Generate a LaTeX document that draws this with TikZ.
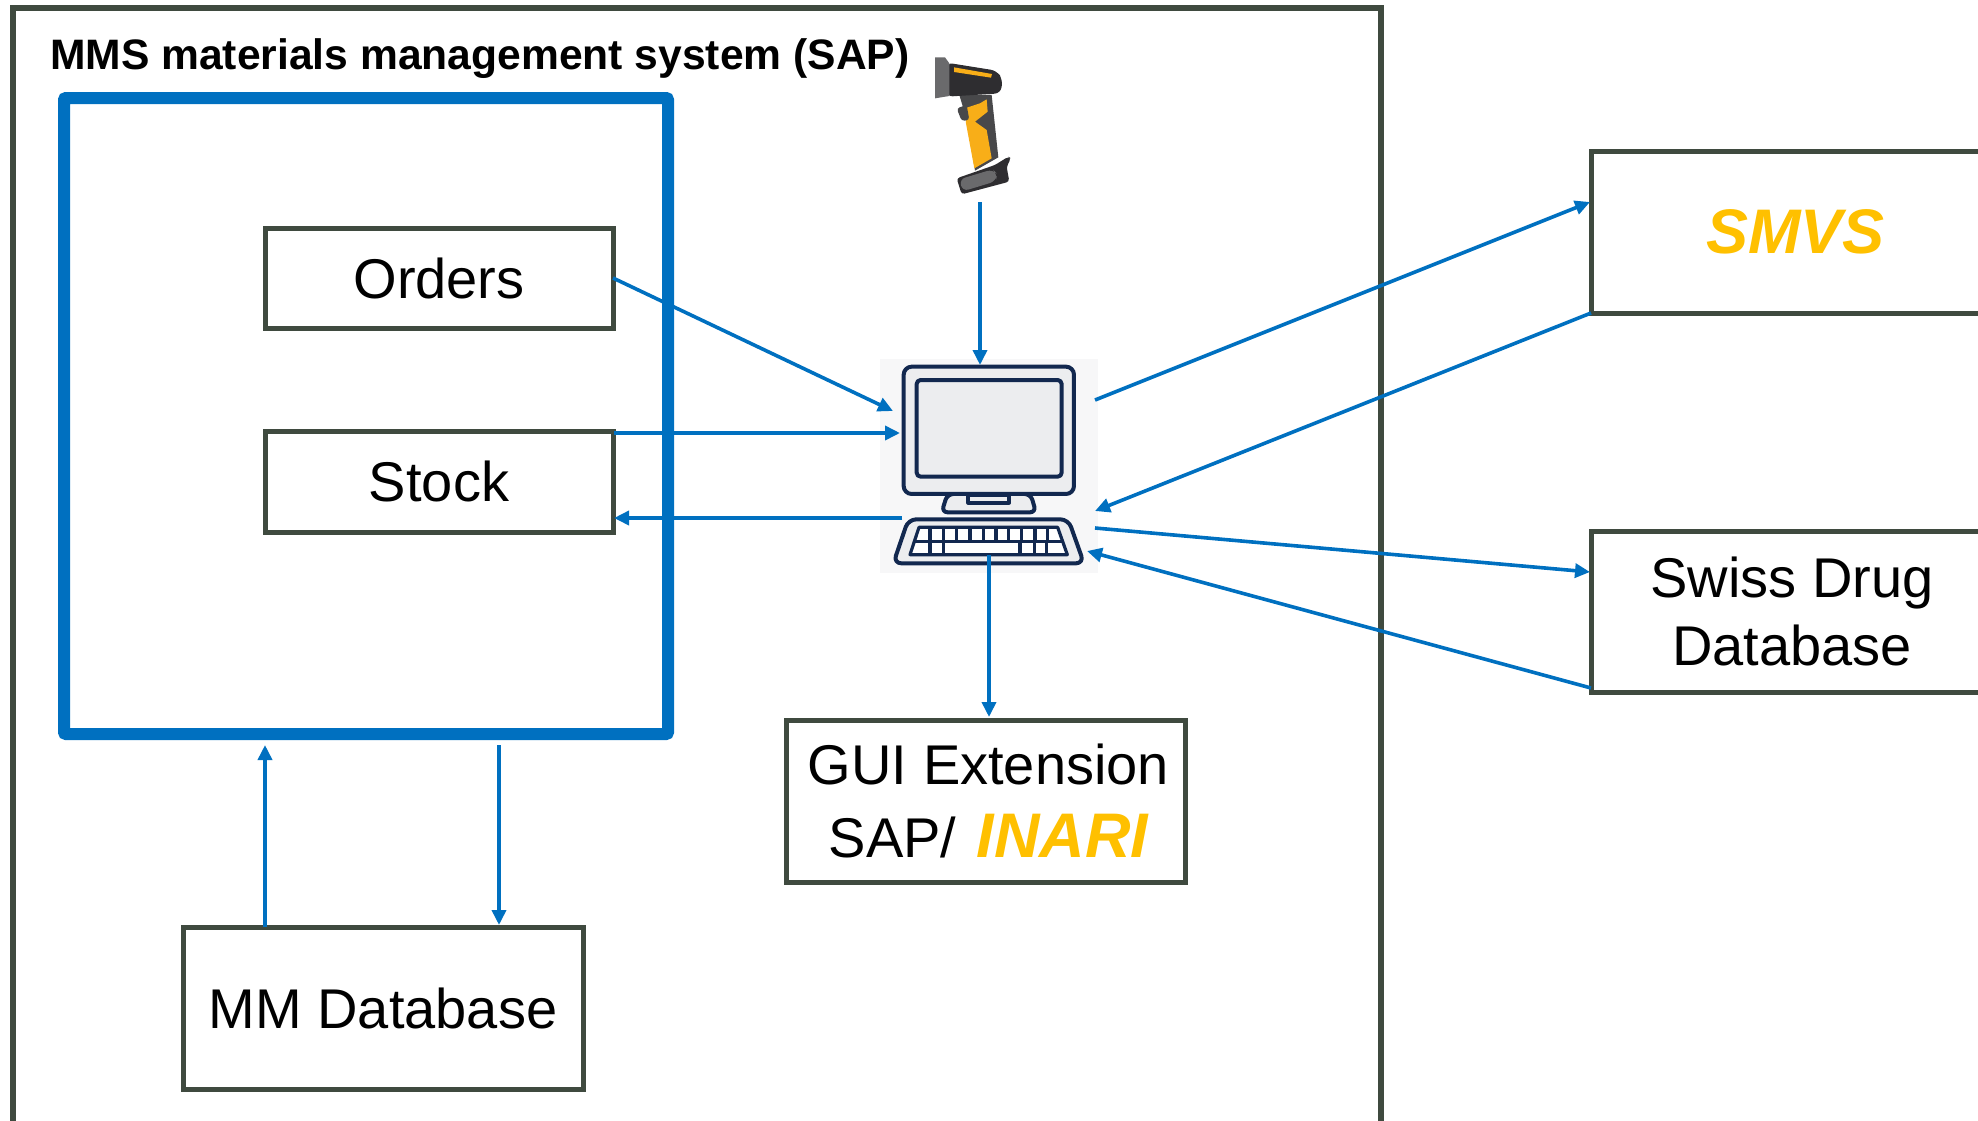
\documentclass[tikz,border=0pt]{standalone}
\usepackage{fontspec}
\setmainfont{Liberation Sans}
\usetikzlibrary{arrows.meta}
\definecolor{frame}{HTML}{3F4A3F}
\definecolor{flow}{HTML}{0070C0}
\definecolor{gold}{HTML}{FFC000}
\definecolor{navy}{HTML}{12284F}
\definecolor{screen}{HTML}{ECEDEF}
\definecolor{pale}{HTML}{F7F7F8}
\definecolor{sgray}{HTML}{6A6A6C}
\definecolor{sdark}{HTML}{2E2D30}
\definecolor{smid}{HTML}{48484A}
\definecolor{syellow}{HTML}{F8AE18}
\tikzset{
  box/.style={draw=frame,line width=5pt,rectangle,outer sep=0pt,inner sep=0pt,anchor=north west,align=center,
    font=\fontsize{56}{71}\selectfont},
  conn/.style={draw=flow,line width=3.6pt,-{Triangle[length=15pt,width=14pt]}},
  mon/.style={draw=navy,line width=4pt,line join=round,fill=screen},
}
\newcommand{\hl}[1]{{\fontsize{63}{71}\selectfont\color{gold}\bfseries\itshape #1}}
\begin{document}
\begin{tikzpicture}[x=1pt,y=-1pt]
\useasboundingbox (0,0) rectangle (1978,1120);
\clip (0,0) rectangle (1978,1120);
% frames
\node[box,line width=6pt,minimum width=1368pt,minimum height=1150pt] (mms) at (13,8) {};
\node[anchor=base west,inner sep=0pt,font=\fontsize{42.6}{50}\selectfont\bfseries] (title) at (50,69) {MMS materials management system (SAP)};
\node[box,draw=flow,line width=12pt,rounded corners=2pt,minimum width=604pt,minimum height=636pt] (core) at (64,98) {};
\node[box,minimum width=348pt,minimum height=100pt] (orders) at (265,228) {Orders};
\node[box,minimum width=348pt,minimum height=101pt] (stock) at (265,431) {Stock};
\node[box,minimum width=400pt,minimum height=162pt] (mm) at (183,927) {MM Database};
\node[box,minimum width=399pt,minimum height=162pt] (gui) at (786,720) {\hspace*{6pt}GUI Extension\\[2pt]\hspace*{6pt}SAP/\hspace{5pt} \hl{INARI}};
\node[box,minimum width=409pt,minimum height=162pt] (smvs) at (1591,151) {\hl{SMVS}};
\node[box,minimum width=402pt,minimum height=161pt] (swiss) at (1591,531) {Swiss Drug\\[-3pt]Database};
% computer
\node[rectangle,fill=pale,inner sep=0pt,outer sep=0pt,anchor=north west,minimum width=218pt,minimum height=214pt] (comp) at (880,359) {};
\begin{scope}[shift={(870,350)},x=0.3333pt,y=-0.3333pt]
  \draw[mon,rounded corners=6pt] (215,487) -- (232,432) -- (482,432) -- (498,487) -- cycle;
  \draw[mon,fill=screen] (295,435) rectangle (417,458);
  \draw[mon,rounded corners=8pt] (101,50) rectangle (612,432);
  \draw[mon,rounded corners=4pt] (140,90) rectangle (575,380);
  \draw[mon,rounded corners=8pt] (115,508) -- (595,508) -- (642,640) -- (70,640) -- cycle;
  \draw[mon,fill=white,line width=3.2pt] (147,532) -- (563,532) -- (592,614) -- (120,614) -- cycle;
  \draw[navy,line width=3.2pt] (134,574) -- (578,574);
  \foreach \kx in {180,220,260,300,340,378,415,455,495,533}
    \draw[navy,line width=3.2pt] (\kx,532) -- (\kx,574);
  \foreach \kx in {180,220,450,493,530}
    \draw[navy,line width=3.2pt] (\kx,574) -- (\kx,614);
\end{scope}
% scanner
\begin{scope}[shift={(880,40)},x=0.3333pt,y=-0.3333pt]
  \fill[smid,line join=round] (238,165) -- (335,165) -- (355,352) -- (285,392) -- (262,245) -- cycle;
  \fill[syellow] (255,205) -- (300,190) -- (320,178) -- (323,215) -- (285,245) -- (320,270) -- (335,355) -- (283,385) -- (258,250) -- cycle;
  \fill[smid,rounded corners=3pt] (230,205) -- (260,195) -- (268,240) -- (245,243) -- cycle;
  \fill[sdark,rounded corners=6pt] (200,68) -- (350,92) -- (368,118) -- (362,160) -- (200,170) -- cycle;
  \fill[sgray] (165,52) -- (195,52) -- (208,70) -- (208,168) -- (165,175) -- cycle;
  \fill[syellow] (222,82) -- (336,102) -- (333,113) -- (222,96) -- cycle;
  \fill[sdark,rounded corners=3pt] (230,415) -- (345,375) -- (385,350) -- (393,355) -- (380,380) -- (388,425) -- (245,463) -- cycle;
  \fill[sgray,rounded corners=6pt] (238,418) -- (338,388) -- (352,402) -- (347,424) -- (248,454) -- cycle;
\end{scope}
\coordinate (scan) at (980,202);
\coordinate (compN) at (980,365);
\coordinate (inOrders) at (893,411);
\coordinate (stockOut) at (614,433);
\coordinate (inStock) at (900,433);
\coordinate (outStock) at (902,518);
\coordinate (stockIn) at (614,518);
\coordinate (outGui) at (989,555);
\coordinate (guiIn) at (989,717);
\coordinate (outSmvs) at (1095,400);
\coordinate (smvsIn) at (1590,202);
\coordinate (smvsOut) at (1591,313);
\coordinate (inSmvs) at (1095,511);
\coordinate (outSwiss) at (1095,528);
\coordinate (swissIn) at (1590,572);
\coordinate (swissOut) at (1591,688);
\coordinate (inSwiss) at (1087,551);
\coordinate (mmOut) at (265,927);
\coordinate (coreIn) at (265,745);
\coordinate (coreOut) at (499,745);
\coordinate (mmIn) at (499,925);
\draw[conn] (orders.east) -- (inOrders);
\draw[conn] (stockOut) -- (inStock);
\draw[conn] (outStock) -- (stockIn);
\draw[conn] (scan) -- (compN);
\draw[conn] (outGui) -- (guiIn);
\draw[conn] (outSmvs) -- (smvsIn);
\draw[conn] (smvsOut) -- (inSmvs);
\draw[conn] (outSwiss) -- (swissIn);
\draw[conn] (swissOut) -- (inSwiss);
\draw[conn] (mmOut) -- (coreIn);
\draw[conn] (coreOut) -- (mmIn);
\end{tikzpicture}
\end{document}
